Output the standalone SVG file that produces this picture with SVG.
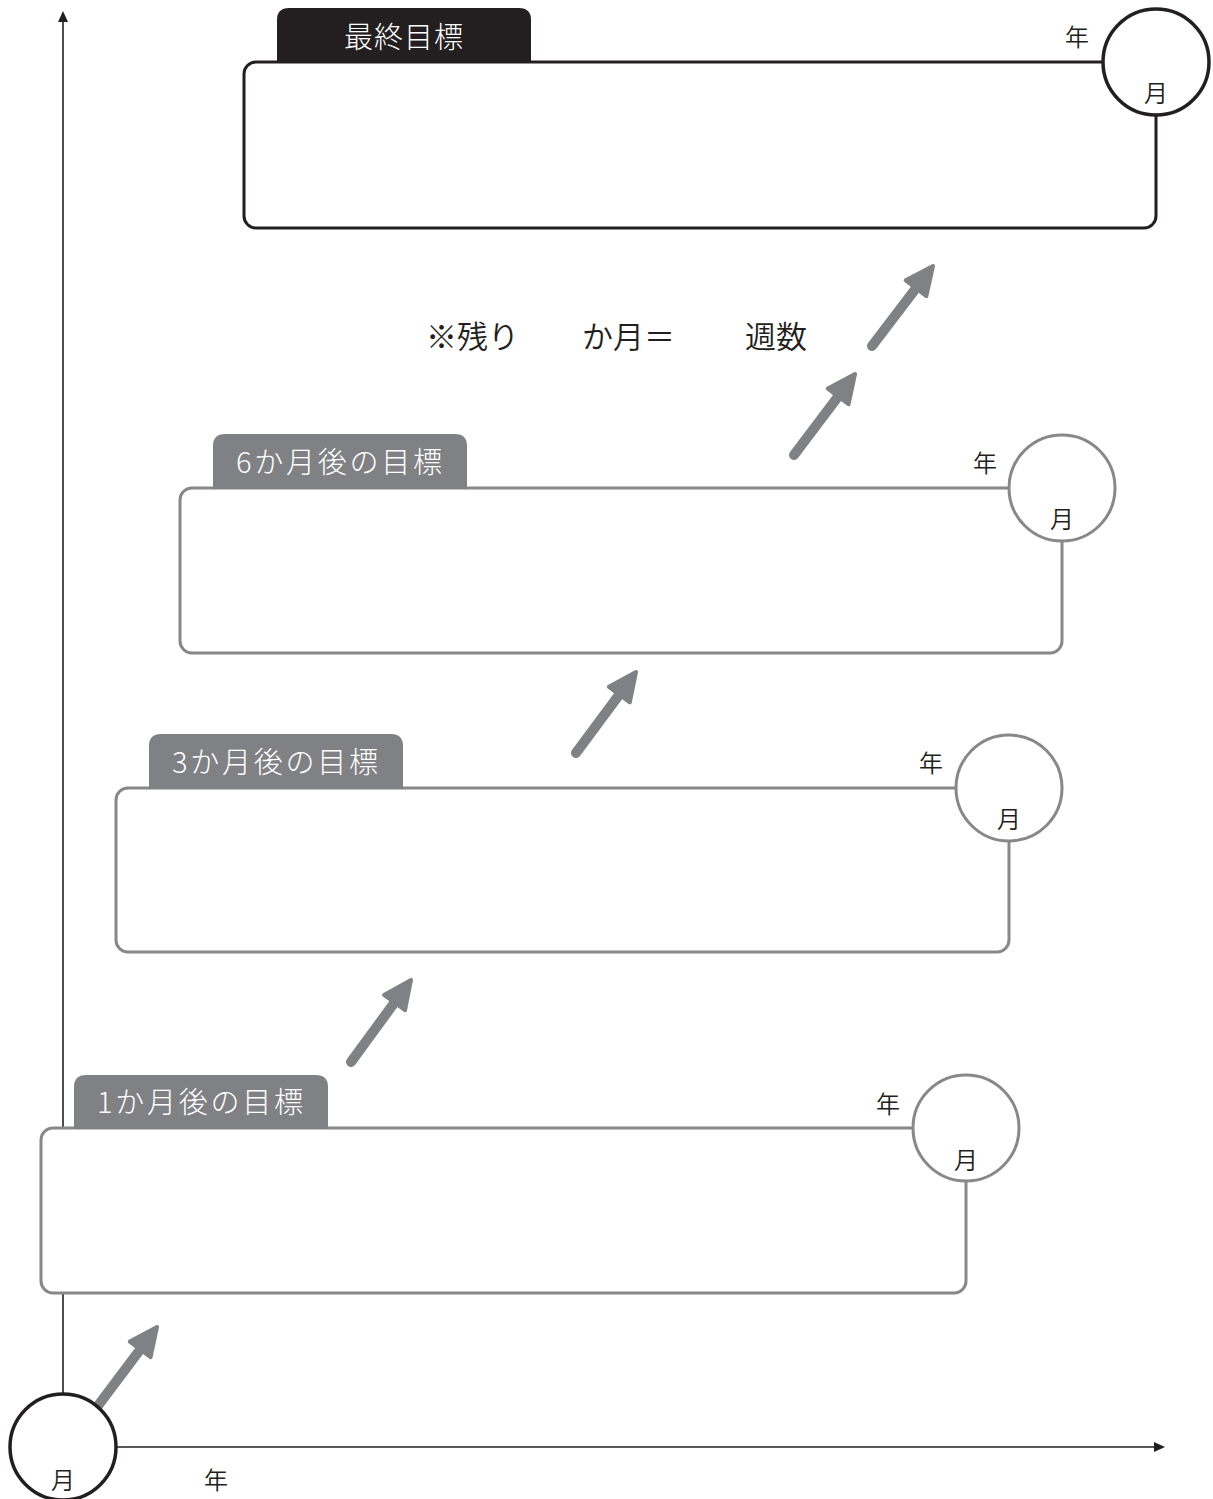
<svg xmlns="http://www.w3.org/2000/svg" width="1213" height="1499" viewBox="0 0 1213 1499">
<style>
.jp{font-family:"Noto Sans CJK JP","Noto Sans",sans-serif;}
.box{fill:#fff;stroke-width:3;}
.g{stroke:#88888b;}
.k{stroke:#231f20;}
.tabg{fill:#808184;}
.tabk{fill:#231f20;}
.tabt{fill:#fff;font-size:29px;font-weight:300;}
.lbl{fill:#231f20;font-size:24px;text-anchor:middle;font-weight:350;}
.arr{stroke:#808184;stroke-width:10;stroke-linecap:round;fill:none;marker-end:url(#ah);}
.axis{stroke:#231f20;stroke-width:1.6;fill:none;}
</style>
<defs>
<marker id="ah" markerUnits="userSpaceOnUse" viewBox="-14 -17 36 34" markerWidth="36" markerHeight="34" refX="0" refY="0" orient="auto">
<path d="M-10,-13 L18,0 L-10,13 Z" fill="#808184" stroke="#808184" stroke-width="4" stroke-linejoin="round"/>
</marker>
<marker id="axh" markerUnits="userSpaceOnUse" viewBox="0 -6 12 12" markerWidth="12" markerHeight="12" refX="2" refY="0" orient="auto">
<path d="M0,-5 L11,0 L0,5 Z" fill="#231f20"/>
</marker>
</defs>

<g id="connectors">
<line class="axis" x1="63" y1="1395" x2="63" y2="20" marker-end="url(#axh)"/>
<line class="axis" x1="116" y1="1447" x2="1156" y2="1447" marker-end="url(#axh)"/>
<line class="arr" x1="88" y1="1419" x2="146.2" y2="1341.4"/>
<line class="arr" x1="351" y1="1062" x2="400.4" y2="994.5"/>
<line class="arr" x1="576" y1="753" x2="625.3" y2="686.5"/>
<line class="arr" x1="794" y1="455" x2="844.2" y2="388.4"/>
<line class="arr" x1="872" y1="346" x2="922.1" y2="280.3"/>
</g>

<g id="origin">
<circle cx="63" cy="1447" r="53" fill="#fff" stroke="#231f20" stroke-width="3.5"/>
<text class="jp lbl" x="63" y="1489">月</text>
<text class="jp lbl" x="216" y="1489">年</text>
</g>

<g id="goal-1m">
<rect class="box g" x="41" y="1128" width="925" height="165" rx="12"/>
<path class="tabg" d="M74,1129 V1087 Q74,1075 86,1075 H316 Q328,1075 328,1087 V1129 Z"/>
<text class="jp tabt" x="97" y="1113" textLength="206" lengthAdjust="spacing">1か月後の目標</text>
<circle cx="966" cy="1128" r="53" fill="#fff" stroke="#88888b" stroke-width="3"/>
<text class="jp lbl" x="888" y="1113">年</text>
<text class="jp lbl" x="966" y="1169">月</text>
</g>

<g id="goal-3m">
<rect class="box g" x="116" y="788" width="893" height="164" rx="12"/>
<path class="tabg" d="M149,789 V746 Q149,734 161,734 H391 Q403,734 403,746 V789 Z"/>
<text class="jp tabt" x="172" y="773" textLength="206" lengthAdjust="spacing">3か月後の目標</text>
<circle cx="1009" cy="788" r="53" fill="#fff" stroke="#88888b" stroke-width="3"/>
<text class="jp lbl" x="931" y="772">年</text>
<text class="jp lbl" x="1009" y="828">月</text>
</g>

<g id="goal-6m">
<rect class="box g" x="180" y="488" width="882" height="165" rx="12"/>
<path class="tabg" d="M213,489 V446 Q213,434 225,434 H455 Q467,434 467,446 V489 Z"/>
<text class="jp tabt" x="236" y="473" textLength="206" lengthAdjust="spacing">6か月後の目標</text>
<circle cx="1062" cy="488" r="53" fill="#fff" stroke="#88888b" stroke-width="3"/>
<text class="jp lbl" x="985" y="472">年</text>
<text class="jp lbl" x="1062" y="528">月</text>
</g>

<g id="remaining">
<text class="jp" font-size="31" font-weight="350" fill="#231f20" y="348"><tspan x="426">※残り</tspan><tspan x="582">か月＝</tspan><tspan x="745">週数</tspan></text>
</g>

<g id="goal-final">
<rect class="box k" x="244" y="62" width="912" height="166" rx="12" stroke-width="3.5"/>
<path class="tabk" d="M277,63 V20 Q277,8 289,8 H519 Q531,8 531,20 V63 Z"/>
<text class="jp tabt" x="404" y="48" font-size="31" text-anchor="middle" letter-spacing="1">最終目標</text>
<circle cx="1156" cy="62" r="53" fill="#fff" stroke="#231f20" stroke-width="3.5"/>
<text class="jp lbl" x="1077" y="46">年</text>
<text class="jp lbl" x="1156" y="102">月</text>
</g>
</svg>
